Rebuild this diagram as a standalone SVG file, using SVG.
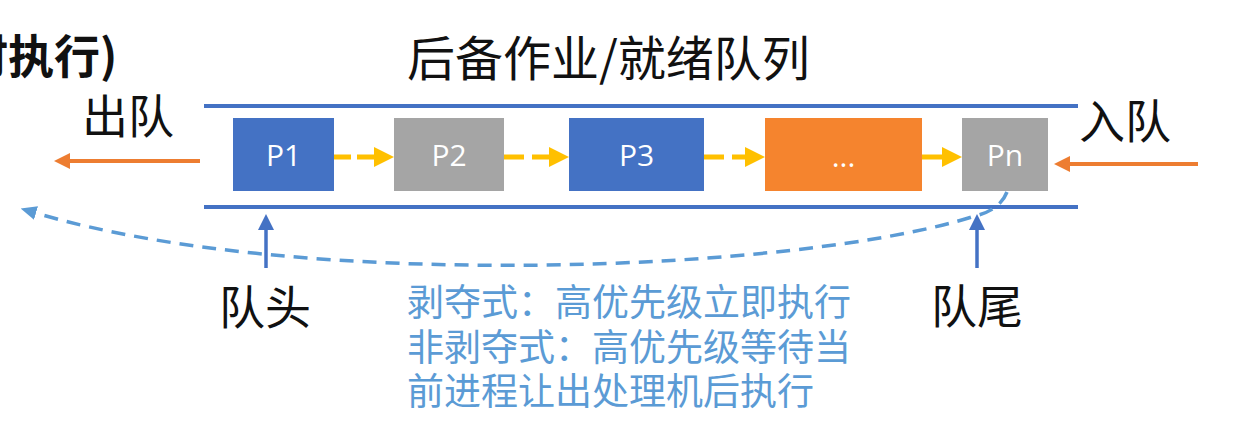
<svg xmlns="http://www.w3.org/2000/svg" width="1246" height="425" viewBox="0 0 1246 425">
<style>
.cjk{font-family:"Noto Sans CJK SC","Noto Sans",sans-serif;}
.big{font-size:46px;fill:#111;}
.title{font-size:48px;fill:#111;}
.note{font-size:37px;fill:#5B9BD5;}
.lbl{font-family:"Open Sans","Noto Sans",sans-serif;font-size:30px;fill:#fff;text-anchor:middle;}
.blue{fill:#4472C4;}
.gray{fill:#A5A5A5;}
.orange{fill:#F5842E;}
.rail{stroke:#4472C4;stroke-width:4;}
.ylw{stroke:#FFC000;stroke-width:5;fill:none;}
.org{stroke:#ED7D31;stroke-width:4;fill:none;}
.up{stroke:#4472C4;stroke-width:3.5;fill:none;}
</style>
<defs>
<marker id="hy" markerUnits="userSpaceOnUse" markerWidth="20" markerHeight="20" refX="0" refY="10" orient="auto"><path d="M0,0 L20,10 L0,20 z" fill="#FFC000"/></marker>
<marker id="ho" markerUnits="userSpaceOnUse" markerWidth="16" markerHeight="16" refX="0" refY="8" orient="auto"><path d="M0,0 L16,8 L0,16 z" fill="#ED7D31"/></marker>
<marker id="hb" markerUnits="userSpaceOnUse" markerWidth="16" markerHeight="16" refX="0" refY="8" orient="auto"><path d="M0,0 L16,8 L0,16 z" fill="#4472C4"/></marker>
<marker id="hl" markerUnits="userSpaceOnUse" markerWidth="16" markerHeight="14" refX="0" refY="7" orient="auto"><path d="M0,0 L16,7 L0,14 z" fill="#5B9BD5"/></marker>
</defs>

<text class="cjk big" x="-38" y="73" font-weight="bold">时执行)</text>
<text class="cjk title" x="407" y="76">后备作业/就绪队列</text>
<text class="cjk big" x="82" y="133">出队</text>
<text class="cjk big" x="1079" y="138">入队</text>

<g id="rails">
<line class="rail" x1="204" y1="106" x2="1078" y2="106"/>
<line class="rail" x1="204" y1="207" x2="1078" y2="207"/>
</g>

<g id="p1"><rect class="blue" x="233" y="118" width="101" height="73"/><text class="lbl" x="283.5" y="166">P1</text></g>
<g id="p2"><rect class="gray" x="394" y="118" width="110" height="73"/><text class="lbl" x="449" y="166">P2</text></g>
<g id="p3"><rect class="blue" x="569" y="118" width="135" height="73"/><text class="lbl" x="636.5" y="166">P3</text></g>
<g id="pdots"><rect class="orange" x="765" y="118" width="157" height="73"/><text class="lbl" x="843.5" y="167">...</text></g>
<g id="pn"><rect class="gray" x="962" y="118" width="86" height="73"/><text class="lbl" x="1005" y="166">Pn</text></g>

<g id="connectors">
<line class="ylw" x1="334" y1="157" x2="374" y2="157" stroke-dasharray="17 6" marker-end="url(#hy)"/>
<line class="ylw" x1="504" y1="157" x2="549" y2="157" stroke-dasharray="20 8" marker-end="url(#hy)"/>
<line class="ylw" x1="704" y1="157" x2="745" y2="157" stroke-dasharray="20 8" marker-end="url(#hy)"/>
<line class="ylw" x1="922" y1="157" x2="942" y2="157" marker-end="url(#hy)"/>
<line class="org" x1="200" y1="161" x2="70" y2="161" marker-end="url(#ho)"/>
<line class="org" x1="1198" y1="164" x2="1070" y2="164" marker-end="url(#ho)"/>
<line class="up" x1="266" y1="268" x2="266" y2="230" marker-end="url(#hb)"/>
<line class="up" x1="977" y1="268" x2="977" y2="230" marker-end="url(#hb)"/>
<path d="M1007,192 Q1000,210 975,216 C800,272 300,292 36,213" fill="none" stroke="#5B9BD5" stroke-width="3.5" stroke-dasharray="14 9" marker-end="url(#hl)"/>
</g>

<text class="cjk big" x="219" y="324">队头</text>
<text class="cjk big" x="931" y="323">队尾</text>

<g id="note">
<text class="cjk note" x="407" y="316">剥夺式：高优先级立即执行</text>
<text class="cjk note" x="407" y="361">非剥夺式：高优先级等待当</text>
<text class="cjk note" x="407" y="405">前进程让出处理机后执行</text>
</g>
</svg>
